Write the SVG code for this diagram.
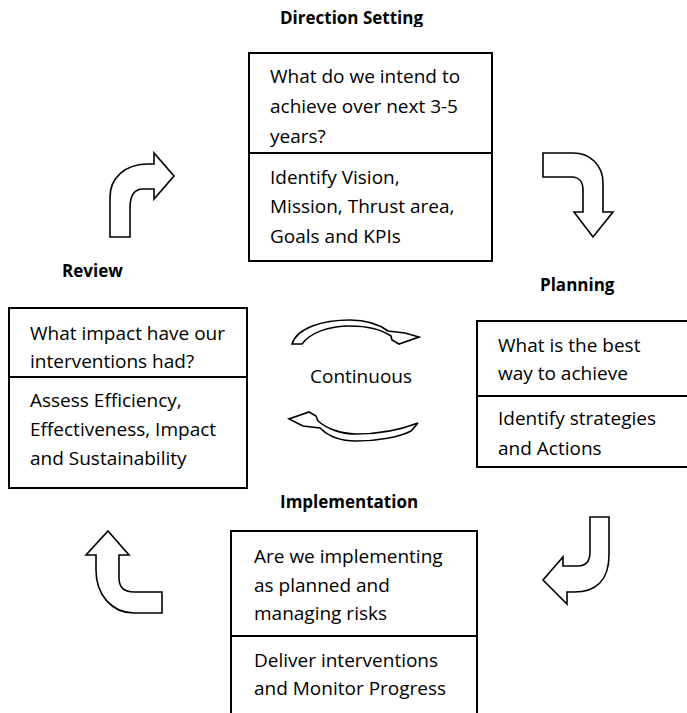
<svg xmlns="http://www.w3.org/2000/svg" width="687" height="713" viewBox="0 0 687 713">
<style>
.box{fill:#fff;stroke:#000;stroke-width:2}
.div{stroke:#000;stroke-width:2}
.t{font-family:"Open Sans","Liberation Sans",sans-serif;font-size:19px;fill:#000}
.h{font-family:"Open Sans","Liberation Sans",sans-serif;font-size:17px;font-weight:bold;fill:#000}
.ar{fill:#fff;stroke:#000;stroke-width:1.6;stroke-linejoin:miter}
</style>
<defs>
<clipPath id="clipTop"><rect x="0" y="0" width="687" height="27"/></clipPath>
</defs>
<rect width="687" height="713" fill="#fff"/>

<g id="direction-setting">
<text class="h" x="280" y="24" clip-path="url(#clipTop)">Direction Setting</text>
<rect class="box" x="249" y="53" width="243" height="208"/>
<line class="div" x1="249" y1="153" x2="492" y2="153"/>
<text class="t" x="270" y="83">What do we intend to</text>
<text class="t" x="270" y="113">achieve over next 3-5</text>
<text class="t" x="270" y="143">years?</text>
<text class="t" x="270" y="184">Identify Vision,</text>
<text class="t" x="270" y="213">Mission, Thrust area,</text>
<text class="t" x="270" y="243">Goals and KPIs</text>
</g>

<g id="review">
<text class="h" x="62" y="277">Review</text>
<rect class="box" x="9" y="308" width="238" height="180"/>
<line class="div" x1="9" y1="377" x2="247" y2="377"/>
<text class="t" x="30" y="340">What impact have our</text>
<text class="t" x="30" y="368">interventions had?</text>
<text class="t" x="30" y="407">Assess Efficiency,</text>
<text class="t" x="30" y="436">Effectiveness, Impact</text>
<text class="t" x="30" y="465">and Sustainability</text>
</g>

<g id="planning">
<text class="h" x="540" y="291">Planning</text>
<rect class="box" x="477" y="321" width="215" height="146"/>
<line class="div" x1="477" y1="396" x2="692" y2="396"/>
<text class="t" x="498" y="352">What is the best</text>
<text class="t" x="498" y="380">way to achieve</text>
<text class="t" x="498" y="425">Identify strategies</text>
<text class="t" x="498" y="455">and Actions</text>
</g>

<g id="implementation">
<text class="h" x="280" y="508">Implementation</text>
<rect class="box" x="231" y="531" width="246" height="195"/>
<line class="div" x1="231" y1="636" x2="477" y2="636"/>
<text class="t" x="254" y="563">Are we implementing</text>
<text class="t" x="254" y="592">as planned and</text>
<text class="t" x="254" y="620">managing risks</text>
<text class="t" x="254" y="667">Deliver interventions</text>
<text class="t" x="254" y="695">and Monitor Progress</text>
</g>

<g id="continuous">
<text class="t" x="310" y="383">Continuous</text>
</g>

<g id="connectors">
<path class="ar" d="M110,237 V197 C110,178 125,164 148,164 H154 V153 L174,176 L154,199 V189 H143 C135,189 130,195 130,208 V237 Z"/>
<path class="ar" d="M543,153 H573 C590,153 603,165 603,183 V212 H613 L593,237 L574,212 H583 V190 C583,182 579,177 572,177 H543 Z"/>
<path class="ar" d="M590,517 H609 V555 C609,580 596,592 574,592 H567 V604 L543,580 L563,557 V566 H578 C586,566 590,562 590,552 Z"/>
<path class="ar" d="M108,531 L129,555 H119 V578 C119,587 124,592 134,592 H162 V613 H134 C112,613 96,595 96,570 V555 H86 Z"/>
<path id="arc-top" class="ar" d="M292,344 C297,328 322,320 350,320 C367,320 380,325 388,331 L405,333 L419,337 L399,344 L392,340 L391,336 C382,330 367,326 350,326 C328,326 310,333 302,344 Z"/>
<path id="arc-bottom" class="ar" d="M418,423 L411,431 C400,437 378,441 356,441 C340,441 328,436 320,428 L303,426 L289,419 L309,412 L316,416 L318,421 C326,428 340,434 356,434 C378,434 400,430 418,423 Z"/>
</g>
</svg>
